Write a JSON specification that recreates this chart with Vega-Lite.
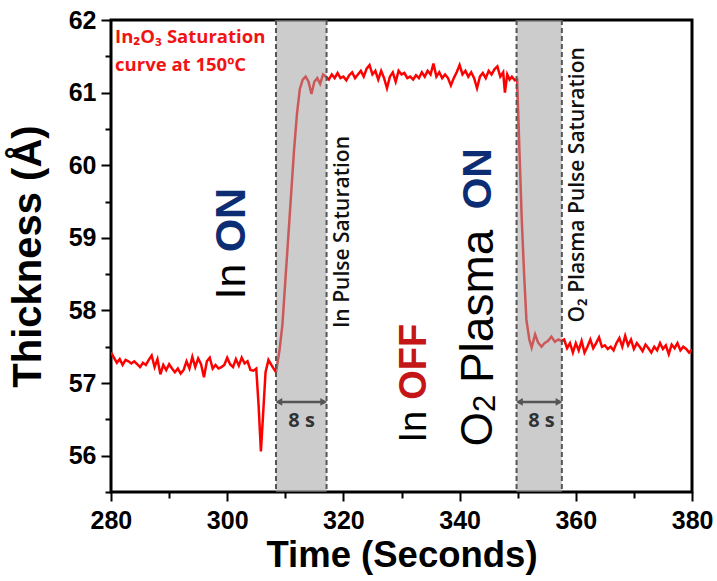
{
  "$schema": "https://vega.github.io/schema/vega-lite/v6.json",
  "width": 581,
  "height": 472,
  "autosize": {"type": "none"},
  "padding": {"left": 111, "top": 20, "right": 25, "bottom": 89},
  "background": "#ffffff",
  "config": {
    "view": {"stroke": "#000000", "strokeWidth": 3},
    "axis": {"grid": false}
  },
  "datasets": {
    "series": [
      {"t":280,"v":57.42},{"t":280.5,"v":57.35},{"t":281,"v":57.28},{"t":281.5,"v":57.33},{"t":282,"v":57.25},{"t":282.5,"v":57.32},{"t":283,"v":57.3},{"t":283.5,"v":57.27},{"t":284,"v":57.3},{"t":284.5,"v":57.26},{"t":285,"v":57.22},{"t":285.5,"v":57.28},{"t":286,"v":57.25},{"t":286.5,"v":57.32},{"t":287,"v":57.38},{"t":287.5,"v":57.22},{"t":288,"v":57.33},{"t":288.5,"v":57.12},{"t":289,"v":57.25},{"t":289.5,"v":57.18},{"t":290,"v":57.26},{"t":290.5,"v":57.2},{"t":291,"v":57.15},{"t":291.5,"v":57.2},{"t":292,"v":57.13},{"t":292.5,"v":57.18},{"t":293,"v":57.3},{"t":293.5,"v":57.2},{"t":294,"v":57.36},{"t":294.5,"v":57.22},{"t":295,"v":57.34},{"t":295.5,"v":57.26},{"t":296,"v":57.08},{"t":296.5,"v":57.3},{"t":297,"v":57.35},{"t":297.5,"v":57.2},{"t":298,"v":57.25},{"t":298.5,"v":57.2},{"t":299,"v":57.22},{"t":299.5,"v":57.25},{"t":300,"v":57.35},{"t":300.5,"v":57.26},{"t":301,"v":57.22},{"t":301.5,"v":57.33},{"t":302,"v":57.24},{"t":302.5,"v":57.35},{"t":303,"v":57.27},{"t":303.5,"v":57.3},{"t":304,"v":57.18},{"t":304.5,"v":57.17},{"t":305,"v":57.2},{"t":305.4,"v":56.7},{"t":305.8,"v":56.06},{"t":306.2,"v":56.6},{"t":306.6,"v":57.15},{"t":307.1,"v":57.32},{"t":307.6,"v":57.25},{"t":308,"v":57.2},{"t":308.4,"v":57.15},
      {"t":309,"v":57.45},{"t":309.5,"v":57.8},{"t":310,"v":58.4},{"t":310.5,"v":59.0},{"t":311,"v":59.6},{"t":311.5,"v":60.2},{"t":312,"v":60.7},{"t":312.5,"v":61.05},{"t":313,"v":61.18},{"t":313.5,"v":61.22},{"t":314,"v":61.15},{"t":314.5,"v":60.98},{"t":315,"v":61.15},{"t":315.5,"v":61.2},{"t":316,"v":61.12},{"t":316.5,"v":61.25},
      {"t":317,"v":61.22},{"t":317.5,"v":61.18},{"t":318,"v":61.25},{"t":318.5,"v":61.2},{"t":319,"v":61.27},{"t":319.5,"v":61.2},{"t":320,"v":61.22},{"t":320.5,"v":61.17},{"t":321,"v":61.24},{"t":321.5,"v":61.28},{"t":322,"v":61.2},{"t":322.5,"v":61.25},{"t":323,"v":61.3},{"t":323.5,"v":61.22},{"t":324,"v":61.33},{"t":324.5,"v":61.38},{"t":325,"v":61.25},{"t":325.5,"v":61.3},{"t":326,"v":61.18},{"t":326.5,"v":61.3},{"t":327,"v":61.2},{"t":327.5,"v":61.06},{"t":328,"v":61.22},{"t":328.5,"v":61.28},{"t":329,"v":61.15},{"t":329.5,"v":61.3},{"t":330,"v":61.25},{"t":330.5,"v":61.27},{"t":331,"v":61.2},{"t":331.5,"v":61.22},{"t":332,"v":61.18},{"t":332.5,"v":61.24},{"t":333,"v":61.2},{"t":333.5,"v":61.28},{"t":334,"v":61.22},{"t":334.5,"v":61.3},{"t":335,"v":61.25},{"t":335.5,"v":61.4},{"t":336,"v":61.22},{"t":336.5,"v":61.28},{"t":337,"v":61.2},{"t":337.5,"v":61.25},{"t":338,"v":61.2},{"t":338.5,"v":61.1},{"t":339,"v":61.2},{"t":339.5,"v":61.28},{"t":340,"v":61.38},{"t":340.5,"v":61.25},{"t":341,"v":61.3},{"t":341.5,"v":61.22},{"t":342,"v":61.28},{"t":342.5,"v":61.2},{"t":343,"v":61.06},{"t":343.5,"v":61.22},{"t":344,"v":61.27},{"t":344.5,"v":61.2},{"t":345,"v":61.3},{"t":345.5,"v":61.25},{"t":346,"v":61.32},{"t":346.5,"v":61.36},{"t":347,"v":61.22},{"t":347.5,"v":61.28},{"t":347.8,"v":61.0},{"t":348.2,"v":61.25},{"t":348.6,"v":61.18},{"t":349,"v":61.22},{"t":349.5,"v":61.17},{"t":349.9,"v":61.18},
      {"t":350.3,"v":60.2},{"t":350.7,"v":59.25},{"t":351.1,"v":58.5},{"t":351.5,"v":57.87},{"t":352,"v":57.6},{"t":352.4,"v":57.49},{"t":353,"v":57.67},{"t":353.5,"v":57.56},{"t":354.1,"v":57.5},{"t":354.6,"v":57.55},{"t":355.2,"v":57.58},{"t":355.8,"v":57.64},{"t":356.4,"v":57.57},{"t":357,"v":57.6},{"t":357.5,"v":57.58},
      {"t":358,"v":57.6},{"t":358.5,"v":57.48},{"t":359,"v":57.55},{"t":359.5,"v":57.42},{"t":360,"v":57.55},{"t":360.5,"v":57.45},{"t":361,"v":57.58},{"t":361.5,"v":57.42},{"t":362,"v":57.5},{"t":362.5,"v":57.6},{"t":363,"v":57.48},{"t":363.5,"v":57.55},{"t":364,"v":57.63},{"t":364.5,"v":57.5},{"t":365,"v":57.52},{"t":365.5,"v":57.47},{"t":366,"v":57.5},{"t":366.5,"v":57.45},{"t":367,"v":57.55},{"t":367.5,"v":57.62},{"t":368,"v":57.5},{"t":368.5,"v":57.65},{"t":369,"v":57.52},{"t":369.5,"v":57.6},{"t":370,"v":57.47},{"t":370.5,"v":57.55},{"t":371,"v":57.5},{"t":371.5,"v":57.44},{"t":372,"v":57.53},{"t":372.5,"v":57.48},{"t":373,"v":57.42},{"t":373.5,"v":57.5},{"t":374,"v":57.45},{"t":374.5,"v":57.55},{"t":375,"v":57.47},{"t":375.5,"v":57.52},{"t":376,"v":57.4},{"t":376.5,"v":57.53},{"t":377,"v":57.48},{"t":377.5,"v":57.55},{"t":378,"v":57.45},{"t":378.5,"v":57.5},{"t":379,"v":57.47},{"t":379.5,"v":57.42},{"t":380,"v":57.46}
    ],
    "bands": [{"x1":308.4,"x2":317.1},{"x1":349.8,"x2":357.6}],
    "edges": [{"x":308.4},{"x":317.1},{"x":349.8},{"x":357.6}],
    "arrows": [{"x1":308.7,"x2":316.8,"y":56.74},{"x1":350.1,"x2":357.3,"y":56.74}],
    "heads": [{"x":308.9,"y":56.74,"shape":"triangle-left"},{"x":316.6,"y":56.74,"shape":"triangle-right"},{"x":350.3,"y":56.74,"shape":"triangle-left"},{"x":357.1,"y":56.74,"shape":"triangle-right"}],
    "bigNormal": [
      {"x":300.8,"y":58.15,"label":"In","fs":43,"col":"#000000"},
      {"x":332.3,"y":56.18,"label":"In","fs":38,"col":"#000000"},
      {"x":343.3,"y":56.13,"label":"O","fs":44,"col":"#000000"},
      {"x":344.6,"y":56.6,"label":"2","fs":31,"col":"#000000"},
      {"x":343.3,"y":57.0,"label":"Plasma","fs":46,"col":"#000000"}
    ],
    "bigBold": [
      {"x":300.8,"y":58.8,"label":"ON","fs":43,"col":"#0c2c74"},
      {"x":332.3,"y":56.77,"label":"OFF","fs":38,"col":"#c41616"},
      {"x":343.3,"y":59.39,"label":"ON","fs":41,"col":"#0c2c74"}
    ],
    "sideText": [
      {"x":319.85,"y":59.08,"label":"In Pulse Saturation"},
      {"x":360.4,"y":59.73,"label":"O₂ Plasma Pulse Saturation"}
    ],
    "eight": [{"x":312.8,"y":56.39,"label":"8 s"},{"x":354.1,"y":56.39,"label":"8 s"}],
    "note": [{"x":280.7,"y":61.68,"label":"In₂O₃ Saturation"},{"x":280.7,"y":61.3,"label":"curve at 150ºC"}]
  },
  "layer": [
    {
      "data": {"name": "series"},
      "mark": {"type": "line", "color": "#ff0000", "strokeWidth": 2.5, "clip": true},
      "encoding": {
        "x": {"field": "t", "type": "quantitative", "scale": {"domain": [280, 380], "nice": false, "zero": false},
          "axis": {"orient": "bottom", "tickCount": 10,
            "labelExpr": "datum.value % 20 === 0 ? format(datum.value, 'd') : ''",
            "tickSize": {"condition": {"test": "datum.value % 20 === 0", "value": 9}, "value": 6},
            "tickWidth": 2, "tickColor": "black", "domain": false, "labelFlushOffset": 21,
            "labelFont": "Liberation Sans", "labelFontSize": 25, "labelFontWeight": "bold", "labelColor": "black", "labelPadding": 7,
            "title": "Time (Seconds)", "titleFont": "Liberation Sans", "titleFontSize": 36.5, "titleFontWeight": "bold", "titleColor": "black", "titlePadding": 4}},
        "y": {"field": "v", "type": "quantitative", "scale": {"domain": [55.5, 62], "nice": false, "zero": false},
          "axis": {"orient": "left", "tickCount": 13,
            "labelExpr": "datum.value % 1 === 0 ? format(datum.value, 'd') : ''",
            "tickSize": {"condition": {"test": "datum.value % 1 === 0", "value": 10}, "value": 6},
            "tickWidth": 2, "tickColor": "black", "domain": false,
            "labelFont": "Liberation Sans", "labelFontSize": 25, "labelFontWeight": "bold", "labelColor": "black", "labelPadding": 5,
            "title": "Thickness (Å)", "titleFont": "Liberation Sans", "titleFontSize": 40, "titleFontWeight": "bold", "titleColor": "black", "titlePadding": 20}}
      }
    },
    {
      "data": {"name": "bands"},
      "mark": {"type": "rect", "color": "#a3a3a3", "opacity": 0.55},
      "encoding": {
        "x": {"field": "x1", "type": "quantitative"},
        "x2": {"field": "x2"}
      }
    },
    {
      "data": {"name": "edges"},
      "mark": {"type": "rule", "color": "#555555", "strokeWidth": 2, "strokeDash": [5, 3]},
      "encoding": {
        "x": {"field": "x", "type": "quantitative"}
      }
    },
    {
      "data": {"name": "arrows"},
      "mark": {"type": "rule", "color": "#555555", "strokeWidth": 2.5},
      "encoding": {
        "x": {"field": "x1", "type": "quantitative"},
        "x2": {"field": "x2"},
        "y": {"field": "y", "type": "quantitative"}
      }
    },
    {
      "data": {"name": "heads"},
      "mark": {"type": "point", "filled": true, "color": "#555555", "opacity": 1, "size": 60},
      "encoding": {
        "x": {"field": "x", "type": "quantitative"},
        "y": {"field": "y", "type": "quantitative"},
        "shape": {"field": "shape", "type": "nominal", "scale": null}
      }
    },
    {
      "data": {"name": "bigNormal"},
      "mark": {"type": "text", "font": "Liberation Sans", "fontWeight": "normal", "angle": 270, "align": "left", "baseline": "middle"},
      "encoding": {
        "x": {"field": "x", "type": "quantitative"},
        "y": {"field": "y", "type": "quantitative"},
        "text": {"field": "label"},
        "size": {"field": "fs", "type": "quantitative", "scale": null},
        "color": {"field": "col", "type": "nominal", "scale": null}
      }
    },
    {
      "data": {"name": "bigBold"},
      "mark": {"type": "text", "font": "Liberation Sans", "fontWeight": "bold", "angle": 270, "align": "left", "baseline": "middle"},
      "encoding": {
        "x": {"field": "x", "type": "quantitative"},
        "y": {"field": "y", "type": "quantitative"},
        "text": {"field": "label"},
        "size": {"field": "fs", "type": "quantitative", "scale": null},
        "color": {"field": "col", "type": "nominal", "scale": null}
      }
    },
    {
      "data": {"name": "sideText"},
      "mark": {"type": "text", "font": "Open Sans", "fontSize": 21, "fontWeight": 600, "color": "#111111", "angle": 270, "align": "center", "baseline": "middle"},
      "encoding": {
        "x": {"field": "x", "type": "quantitative"},
        "y": {"field": "y", "type": "quantitative"},
        "text": {"field": "label"}
      }
    },
    {
      "data": {"name": "eight"},
      "mark": {"type": "text", "font": "Open Sans", "fontSize": 20, "fontWeight": "bold", "color": "#333333", "align": "center", "baseline": "alphabetic"},
      "encoding": {
        "x": {"field": "x", "type": "quantitative"},
        "y": {"field": "y", "type": "quantitative"},
        "text": {"field": "label"}
      }
    },
    {
      "data": {"name": "note"},
      "mark": {"type": "text", "font": "Open Sans", "fontSize": 18.5, "fontWeight": "bold", "color": "#f01414", "align": "left", "baseline": "alphabetic"},
      "encoding": {
        "x": {"field": "x", "type": "quantitative"},
        "y": {"field": "y", "type": "quantitative"},
        "text": {"field": "label"}
      }
    }
  ]
}
